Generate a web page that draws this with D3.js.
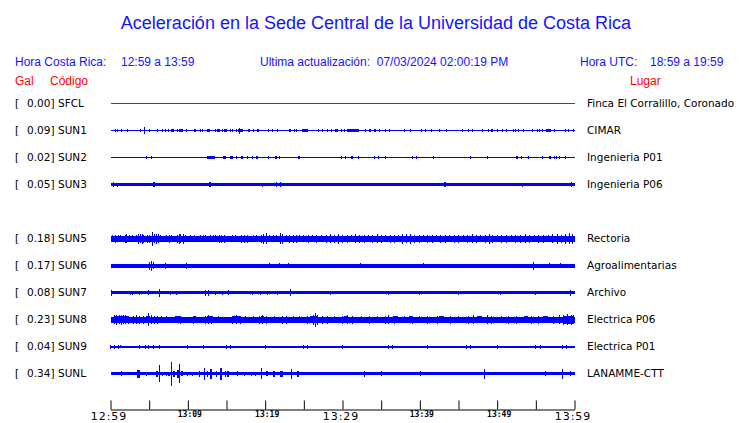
<!DOCTYPE html>
<html><head><meta charset="utf-8">
<script src="https://cdn.jsdelivr.net/npm/d3@7"></script>
<style>
html,body{margin:0;padding:0;background:#fff;}
svg{display:block;}
</style></head>
<body>
<script>
// ---------------- DATA ----------------
const titleText = "Aceleración en la Sede Central de la Universidad de Costa Rica";
const slots = ["SFCL","SUN1","SUN2","SUN3","SUN4","SUN5","SUN6","SUN7","SUN8","SUN9","SUNL"];
const codes = ["SFCL","SUN1","SUN2","SUN3","SUN5","SUN6","SUN7","SUN8","SUN9","SUNL"];
const galValues = [0.00,0.09,0.02,0.05,0.18,0.17,0.08,0.23,0.04,0.34];
const places = ["Finca El Corralillo, Coronado","CIMAR","Ingenieria P01","Ingenieria P06","Rectoria","Agroalimentarias","Archivo","Electrica P06","Electrica P01","LANAMME-CTT"];
// background noise half-amplitude (counts)
const noiseAmp = [0.5,0.5,0.5,1.5,3,2,1.5,3,1,1.5];
// tick labels (minutes after 12:59)
const tickMinutes = [0,5,10,15,20,25,30,35,40,45,50,55,60];
const tickLabels = {0:"12:59",10:"13:09",20:"13:19",30:"13:29",40:"13:39",50:"13:49",60:"13:59"};
const majorTicks = [0,30,60];

// events per station: [start minute, end minute, half-amplitude counts]
const ev_SFCL = [];
const ev_SUN1 = [[0.6,0.6,1.5],[0.9,0.9,1.5],[1.4,1.4,1.2],[2.2,2.2,1.5],[3.9,4.0,1.7],[4.4,4.4,3.5],[5.0,5.0,1.5],[6.1,6.1,1.2],[6.7,6.7,1.2],[7.1,7.1,1.2],[7.5,7.5,1.7],[7.9,8.3,1.7],[8.7,8.7,1.5],[8.9,9.4,1.7],[9.8,9.8,1.5],[10.9,11.1,1.7],[11.6,11.6,1.5],[11.9,11.9,1.5],[12.5,12.9,1.7],[13.6,13.6,1.5],[13.8,14.2,1.7],[14.5,14.5,1.5],[14.7,15.1,1.7],[15.5,15.5,1.5],[15.8,15.8,1.5],[16.3,16.3,1.5],[16.6,17.2,1.7],[16.7,16.7,3],[17.8,18.0,1.7],[18.5,18.5,1.5],[19.0,19.3,1.7],[20.4,20.4,1.2],[20.9,20.9,1.2],[21.6,21.6,1.2],[23.1,23.4,1.7],[23.8,23.8,1.5],[24.1,24.1,1.5],[24.8,25.6,1.7],[26.9,26.9,1.2],[27.4,27.4,1.5],[28.1,28.1,1.5],[28.6,28.6,1.5],[29.1,29.5,1.7],[29.9,29.9,1.5],[30.3,30.3,1.5],[30.6,32.1,1.7],[33.0,33.0,1.5],[33.5,33.8,1.5],[34.1,34.4,1.7],[34.8,34.8,1.5],[35.6,35.6,1.5],[36.1,36.1,1.5],[38.0,38.0,1.5],[38.8,38.8,1.5],[40.2,40.3,1.5],[40.7,40.7,1.5],[41.5,41.5,1.5],[42.5,42.5,1.5],[43.4,43.4,1.5],[45.5,45.5,1.5],[46.3,46.4,1.5],[46.8,46.8,1.5],[48.1,48.1,1.5],[48.9,48.9,1.5],[49.3,49.5,1.7],[50.0,50.0,1.5],[50.7,50.7,1.5],[51.2,51.2,1.5],[52.1,52.1,1.5],[52.4,52.4,1.5],[52.8,52.8,1.5],[53.4,53.4,1.5],[54.6,54.6,1.7],[55.2,55.2,1.5],[55.5,55.5,1.5],[55.9,55.9,1.5],[56.4,57.0,1.7],[57.4,57.4,1.5],[58.8,58.8,1.5],[59.2,59.2,1.5],[59.9,59.9,1.5]];
const ev_SUN2 = [[4.6,4.6,1.2],[5.3,5.3,1.2],[12.5,13.1,1.5],[13.2,13.6,1.5],[14.6,15.0,1.5],[15.5,15.9,1.5],[16.3,16.4,1.3],[16.9,17.2,1.5],[17.7,17.7,1.3],[18.4,18.4,1.3],[18.9,19.1,1.5],[20.4,20.4,1.2],[21.3,21.6,1.3],[21.9,21.9,1.2],[24.3,24.6,1.3],[29.9,29.9,1.2],[30.4,30.4,1.2],[31.2,31.4,1.5],[32.1,32.1,1.2],[34.1,34.1,1.2],[34.7,34.8,1.5],[35.6,35.6,1.2],[39.1,39.1,1.2],[39.6,39.6,1.2],[41.8,41.8,1.2],[46.6,46.6,1.2],[48.8,48.8,1.2],[52.5,52.8,1.5],[53.1,53.1,1.2],[54.1,54.1,1.2],[55.9,55.9,1.2],[56.8,57.0,1.3],[57.4,57.4,1.2],[57.7,57.7,1.2],[58.1,58.1,1.2],[58.8,58.8,1.2]];
const ev_SUN3 = [[0.35,0.35,2.5],[0.9,0.9,2],[5.5,5.7,2.5],[12.8,13.1,2.5],[19.7,19.7,2],[21.5,21.5,2.5],[22.0,22.0,2.5],[43.2,43.4,2.5],[53.3,53.3,2],[59.6,59.6,2.5]];
const ev_SUN5 = [[0.3,0.3,3.5],[0.6,0.6,4],[1.0,1.0,3.5],[1.3,1.3,3.5],[1.9,1.9,4],[2.1,2.1,4.5],[2.5,2.5,3.5],[2.9,2.9,3.5],[3.3,3.3,3.5],[3.6,3.6,5],[3.9,3.9,4.5],[4.1,4.1,5],[4.3,4.3,4],[4.8,4.8,4],[5.0,5.0,4],[5.4,5.4,7],[5.7,5.7,4.5],[5.9,5.9,5],[6.2,6.2,4.5],[6.5,6.5,3.5],[7.3,7.3,3.5],[7.6,7.6,4],[7.9,7.9,3.5],[8.6,8.6,4],[8.9,8.9,5],[9.1,9.1,4.5],[9.4,9.4,5],[9.7,9.7,3.5],[10.4,10.4,3.5],[10.8,10.8,3.5],[11.6,11.6,3.5],[12.0,12.0,3.5],[12.3,12.3,3.5],[12.9,12.9,3.5],[13.3,13.3,3.5],[13.6,13.6,3.5],[14.1,14.1,4],[14.4,14.4,4],[14.8,14.8,4],[15.8,15.8,3.5],[16.2,16.2,3.5],[16.9,16.9,4],[17.3,17.3,4],[17.7,17.7,4],[18.5,18.5,3.5],[18.9,18.9,3.5],[19.5,19.5,4],[19.8,19.8,5],[20.2,20.2,5.5],[20.6,20.6,3.5],[21.1,21.1,3.5],[21.5,21.5,3.5],[22.0,22.0,5.5],[22.3,22.3,5],[22.7,22.7,3.5],[23.2,23.2,4],[23.6,23.6,4],[24.0,24.0,4],[24.4,24.4,3.5],[25.0,25.0,3.5],[25.6,25.6,4],[26.1,26.1,3.5],[26.7,26.7,4],[27.3,27.3,3.5],[27.9,27.9,4],[28.4,28.4,4.5],[29.0,29.0,4],[29.5,29.5,5],[30.0,30.0,4],[30.6,30.6,4],[31.1,31.1,3.5],[31.7,31.7,4.5],[32.2,32.2,4],[32.8,32.8,4],[33.3,33.3,3.5],[33.9,33.9,4],[34.5,34.5,4.5],[35.0,35.0,4],[35.6,35.6,3.5],[36.2,36.2,4],[36.7,36.7,4],[37.3,37.3,3.5],[37.8,37.8,5],[38.3,38.3,4.5],[38.8,38.8,5],[39.3,39.3,4],[39.9,39.9,4],[40.5,40.5,3.5],[41.0,41.0,4],[41.6,41.6,4],[42.2,42.2,3.5],[42.7,42.7,4],[43.3,43.3,4],[43.9,43.9,3.5],[44.5,44.5,4],[45.0,45.0,4],[45.6,45.6,3.5],[46.2,46.2,4],[46.8,46.8,4.5],[47.3,47.3,4],[47.9,47.9,3.5],[48.5,48.5,4],[49.0,49.0,5],[49.4,49.4,4],[50.0,50.0,3.5],[50.6,50.6,4],[51.2,51.2,4],[51.8,51.8,3.5],[52.4,52.4,4],[53.0,53.0,4],[53.6,53.6,4.5],[54.2,54.2,4],[54.8,54.8,3.5],[55.4,55.4,4],[56.0,56.0,4],[56.6,56.6,3.5],[57.2,57.2,4.5],[57.8,57.8,5],[58.3,58.3,4],[58.8,58.8,5],[59.3,59.3,5.5],[59.8,59.8,5]];
const ev_SUN6 = [[5.1,5.1,4],[5.3,5.3,5],[5.5,5.5,3.5],[7.1,7.1,3],[9.8,9.8,3],[20.5,20.5,2.5],[21.9,21.9,2.5],[23.0,23.0,2.5],[32.3,32.3,2.5],[40.5,40.5,2.5],[54.7,54.7,4],[56.8,56.8,2.5],[58.2,58.2,2.5]];
const ev_SUN7 = [[0.1,0.1,3],[2.6,2.6,2],[2.8,2.8,2],[3.7,3.7,2],[4.9,4.9,2.5],[6.3,6.3,4],[7.7,7.7,2],[8.5,8.5,2],[12.3,12.3,3],[12.7,12.7,3],[13.6,13.6,2],[14.5,14.5,2],[15.3,15.3,2.5],[18.4,18.4,2],[19.4,19.4,2],[20.3,20.3,2],[21.6,21.6,2],[23.3,23.3,3.5],[28.5,28.5,2],[36.0,36.0,2],[40.0,40.0,2],[45.0,45.0,2],[50.4,50.4,2],[55.0,55.0,2],[59.5,59.5,3]];
const ev_SUN8 = [[0.5,2.4,3.8],[0.5,0.5,4.5],[0.8,0.8,5],[1.1,1.1,4.7],[1.4,1.4,5],[1.7,1.7,4.5],[2.0,2.0,4.7],[2.3,2.3,4],[3.0,3.0,4],[3.4,3.4,4.5],[3.8,3.8,4],[4.3,4.3,4],[4.6,5.1,3.8],[4.9,4.9,6.5],[5.3,5.3,4.5],[5.7,5.7,4],[6.1,6.1,4],[6.6,6.6,3.5],[7.3,7.3,3.5],[8.4,9.1,3.6],[9.0,9.0,4],[10.7,11.1,3.6],[10.7,10.7,4],[12.3,12.3,4],[12.5,13.3,3.6],[12.7,12.7,4.5],[13.1,13.1,4],[14.0,14.0,3.5],[15.8,15.8,4],[15.9,16.8,3.6],[16.3,16.3,4.5],[16.8,16.8,4],[17.5,17.5,3.5],[18.5,18.5,3.5],[19.3,19.3,4],[19.5,19.9,3.6],[19.7,19.7,4.5],[20.2,20.2,4],[21.2,21.2,3.5],[22.3,22.3,4],[22.8,22.8,4],[23.6,23.6,3.5],[24.5,24.5,3.5],[25.5,25.5,4],[25.9,26.9,3.8],[26.2,26.2,5],[26.5,26.5,7],[26.8,26.8,5],[27.4,27.4,4],[28.0,28.0,4],[29.0,29.0,3.5],[30.0,30.0,4],[30.2,30.7,3.6],[30.6,30.6,4.5],[31.3,31.3,4],[32.5,32.5,3.5],[33.5,33.5,4],[34.5,34.5,3.5],[35.5,35.5,4],[36.0,36.0,4.5],[36.6,37.2,3.6],[36.7,36.7,4],[38.0,38.0,3.5],[38.6,39.1,3.6],[39.0,39.0,4],[40.0,40.0,3.5],[41.0,41.0,4],[42.3,42.3,4],[42.5,43.0,3.6],[43.0,43.0,3.5],[44.0,44.0,4],[45.0,45.0,3.5],[46.3,46.3,4],[47.0,47.0,4.5],[47.5,48.1,3.6],[48.0,48.0,3.5],[48.8,48.8,4.5],[49.3,49.3,4],[50.5,50.5,3.5],[51.5,51.5,4],[52.5,52.5,4],[53.5,54.0,3.6],[53.5,53.5,3.5],[54.5,54.5,4],[55.3,55.3,4],[56.0,56.6,3.6],[56.3,56.3,3.5],[57.3,57.3,4],[58.0,58.0,4.5],[58.6,60.0,4],[58.6,58.6,5],[59.1,59.1,5.5],[59.6,59.6,5],[59.9,59.9,4.5]];
const ev_SUN9 = [[0.0,0.0,2],[0.5,0.5,2],[1.0,1.0,2],[1.3,1.3,1.5],[3.7,3.7,2],[4.5,4.5,2],[4.9,4.9,2],[5.6,5.6,2],[6.4,6.4,2],[10.0,10.0,2],[12.0,12.0,2],[15.0,15.0,2],[15.5,15.5,2],[20.0,20.0,2],[25.0,25.0,2],[25.5,25.5,2],[30.0,30.0,2],[36.0,36.0,2],[36.5,36.5,2],[41.0,41.0,2],[46.0,46.0,2],[46.5,46.5,2],[50.0,50.0,2],[55.0,55.0,2],[55.6,55.6,2],[58.5,58.5,2],[59.0,59.0,2]];
const ev_SUNL = [[1.4,1.5,2.7],[3.5,3.9,4],[4.6,4.6,2],[6.0,6.2,3],[6.3,6.3,8.8],[6.7,6.7,2],[7.2,7.2,2],[7.5,7.7,2],[7.9,7.9,12],[8.1,8.4,3],[8.6,8.8,4],[8.9,8.9,9.7],[9.2,9.4,2.5],[10.0,10.0,2],[10.6,10.6,2],[11.5,11.5,3],[12.1,12.1,6],[12.5,12.5,3],[12.9,13.1,5],[13.7,13.7,3],[14.2,14.4,6],[14.9,14.9,3],[15.1,15.3,3],[16.4,16.4,2.5],[17.3,17.3,2],[18.2,18.2,2],[18.8,18.8,2],[19.5,19.5,5.5],[20.2,20.4,2.5],[21.1,21.3,3],[22.0,22.4,3],[23.4,23.4,5],[24.2,24.4,3],[32.9,32.9,3],[35.0,35.0,2.5],[40.1,40.1,2.5],[48.4,48.4,5],[56.2,56.2,2.5],[58.4,58.4,5],[59.5,59.5,2.5]];
const events = [ev_SFCL,ev_SUN1,ev_SUN2,ev_SUN3,ev_SUN5,ev_SUN6,ev_SUN7,ev_SUN8,ev_SUN9,ev_SUNL];

// ---------------- CHART ----------------
const W = 740, H = 423;
const BLUE = "#0000ff", TXTBLUE = "#1414ff", RED = "#ff0000";
const svg = d3.select("body").append("svg").attr("width", W).attr("height", H);

const t0 = new Date(2024, 2, 7, 12, 59, 0);
const tm = m => new Date(t0.getTime() + m * 60000);
const x = d3.scaleTime().domain([tm(0), tm(60)]).range([110.5, 574.5]);
const y = d3.scalePoint().domain(slots).range([103.5, 373.5]);
const amp = d3.scaleLinear().domain([0, 10]).range([0, 10]);

const sans = "'Liberation Sans', Arial, sans-serif";
const djv = "'DejaVu Sans', sans-serif";

svg.append("text").attr("x", 376).attr("y", 29).attr("text-anchor", "middle")
  .attr("font-family", sans).attr("font-size", 18).attr("fill", TXTBLUE).text(titleText);

const hdr = [
  {t:"Hora Costa Rica:", x:15},
  {t:"12:59 a 13:59", x:121},
  {t:"Ultima actualización:  07/03/2024 02:00:19 PM", x:260},
  {t:"Hora UTC:", x:580},
  {t:"18:59 a 19:59", x:650}
];
svg.selectAll("text.hdr").data(hdr).join("text").attr("class","hdr")
  .attr("x", d => d.x).attr("y", 65.5).attr("font-family", sans).attr("font-size", 12)
  .attr("fill", TXTBLUE).attr("xml:space","preserve").style("white-space","pre").text(d => d.t);

const sub = [{t:"Gal", x:15},{t:"Código", x:50},{t:"Lugar", x:630}];
svg.selectAll("text.sub").data(sub).join("text").attr("class","sub")
  .attr("x", d => d.x).attr("y", 84.5).attr("font-family", sans).attr("font-size", 12)
  .attr("fill", RED).text(d => d.t);

const rows = codes.map((c, i) => ({code:c, gal:galValues[i], place:places[i], noise:noiseAmp[i], ev:events[i], color: c === "SFCL" ? RED : BLUE}));

const g = svg.append("g").attr("shape-rendering", "crispEdges");
rows.forEach(r => {
  const cy = y(r.code);
  const row = svg.append("g");
  row.append("text").attr("x", 15).attr("y", cy + 3.8).attr("font-family", djv).attr("font-size", 10.5).attr("fill", "#000").text("[");
  row.append("text").attr("x", 54.5).attr("y", cy + 3.8).attr("text-anchor","end").attr("font-family", djv).attr("font-size", 10.5).attr("fill", "#000").text(r.gal.toFixed(2) + "]");
  row.append("text").attr("x", 58).attr("y", cy + 3.8).attr("font-family", djv).attr("font-size", 10.5).attr("fill", "#000").text(r.code);
  row.append("text").attr("x", 587).attr("y", cy + 3.8).attr("font-family", djv).attr("font-size", 10.5).attr("fill", "#000").text(r.place);

  const a = Math.max(amp(r.noise), 0.5);
  g.append("rect").attr("x", x(tm(0))).attr("width", x(tm(60)) - x(tm(0)))
    .attr("y", cy - a).attr("height", 2 * a).attr("fill", r.color);
  g.selectAll(null).data(r.ev).join("rect")
    .attr("x", d => Math.floor(x(tm(d[0]))))
    .attr("width", d => Math.max(1, x(tm(d[1])) - x(tm(d[0]))))
    .attr("y", d => cy - amp(d[2]))
    .attr("height", d => 2 * amp(d[2]))
    .attr("fill", r.color);
});

// axis
const axis = d3.axisBottom(x).tickValues(tickMinutes.map(tm)).tickSizeInner(-9).tickSizeOuter(0).tickPadding(0)
  .tickFormat(d => { const m = Math.round((d - t0) / 60000); return tickLabels[m] || ""; });
const ax = svg.append("g").attr("transform", "translate(0,409.5)").call(axis);
ax.select(".domain").attr("stroke", "#000").attr("stroke-width", 1);
ax.selectAll(".tick line").attr("stroke", "#000").attr("stroke-width", 1);
ax.selectAll(".tick text").each(function(d) {
  const m = Math.round((d - t0) / 60000);
  const s = d3.select(this).attr("dy", null).attr("fill", "#000");
  if (majorTicks.includes(m)) {
    s.attr("y", 10).attr("font-family", djv).attr("font-size", 11).attr("letter-spacing", "1px").attr("x", -2);
  } else {
    s.attr("y", 7.8).attr("font-family", "'DejaVu Sans Mono', monospace").attr("font-weight", "bold").attr("font-size", 8).attr("x", 1.5);
  }
});
</script>
</body></html>
